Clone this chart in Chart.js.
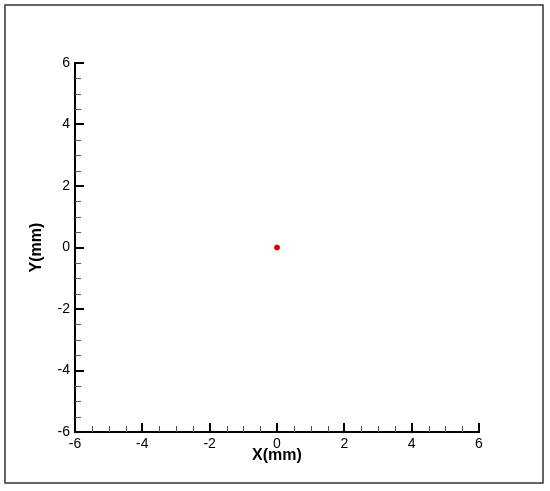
<!DOCTYPE html>
<html>
<head>
<meta charset="utf-8">
<script src="https://cdn.jsdelivr.net/npm/chart.js@4.4.0/dist/chart.umd.min.js"></script>
<style>
  html, body { margin: 0; padding: 0; background: #fff; }
  canvas { display: block; }
</style>
</head>
<body>
<canvas id="chart" width="550" height="491"></canvas>
<script>
// one measured point, in mm
const xValues = [0];
const yValues = [0];
const axisMin = -6;
const axisMax = 6;
const majorStep = 2;
const minorStep = 0.5;

const points = xValues.map((x, i) => ({ x: x, y: yValues[i] }));

// ticks point inward, like the original plot; majors longer than minors
const inwardTicks = {
  id: 'inwardTicks',
  afterDraw(chart) {
    const ctx = chart.ctx;
    const xs = chart.scales.x;
    const ys = chart.scales.y;
    const area = chart.chartArea;
    ctx.save();
    for (let v = axisMin; v <= axisMax + 1e-9; v += minorStep) {
      const major = Math.abs(v / majorStep - Math.round(v / majorStep)) < 1e-9;
      const len = major ? 9 : 6;
      ctx.strokeStyle = major ? '#000' : '#555';
      ctx.lineWidth = major ? 2 : 1;
      const px = Math.round(xs.getPixelForValue(v)) + (major ? 0 : 0.5);
      ctx.beginPath();
      ctx.moveTo(px, area.bottom);
      ctx.lineTo(px, area.bottom - len);
      ctx.stroke();
      const py = Math.round(ys.getPixelForValue(v)) + (major ? 0 : 0.5);
      ctx.beginPath();
      ctx.moveTo(area.left, py);
      ctx.lineTo(area.left + len, py);
      ctx.stroke();
    }
    // frame round the whole figure
    ctx.strokeStyle = '#333';
    ctx.lineWidth = 1.5;
    ctx.strokeRect(5, 5, 538, 478);
    ctx.restore();
  }
};

const tickFont = { family: 'Liberation Sans, Arial, sans-serif', size: 14 };
const titleFont = { family: 'Liberation Sans, Arial, sans-serif', size: 16, weight: 'bold' };

new Chart(document.getElementById('chart'), {
  type: 'scatter',
  data: {
    datasets: [{
      data: points,
      backgroundColor: '#e00000',
      borderColor: '#e00000',
      pointRadius: 2.5,
      pointHoverRadius: 2.5
    }]
  },
  options: {
    responsive: false,
    animation: false,
    layout: { padding: { left: 0, top: 63, right: 71, bottom: 0 } },
    plugins: { legend: { display: false }, tooltip: { enabled: false } },
    scales: {
      x: {
        type: 'linear',
        min: axisMin,
        max: axisMax,
        afterFit(scale) { scale.height = 59; },
        grid: { display: false, drawTicks: false },
        border: { display: true, color: '#000', width: 2 },
        ticks: { stepSize: majorStep, color: '#000', font: tickFont, padding: 4 },
        title: { display: true, text: 'X(mm)', color: '#000', font: titleFont, padding: { top: 0, bottom: 26 } }
      },
      y: {
        type: 'linear',
        min: axisMin,
        max: axisMax,
        afterFit(scale) { scale.width = 75; },
        grid: { display: false, drawTicks: false },
        border: { display: true, color: '#000', width: 2 },
        ticks: { stepSize: majorStep, color: '#000', font: tickFont, padding: 5 },
        title: { display: true, text: 'Y(mm)', color: '#000', font: titleFont, padding: { top: 27, bottom: 0 } }
      }
    }
  },
  plugins: [inwardTicks]
});
</script>
</body>
</html>
